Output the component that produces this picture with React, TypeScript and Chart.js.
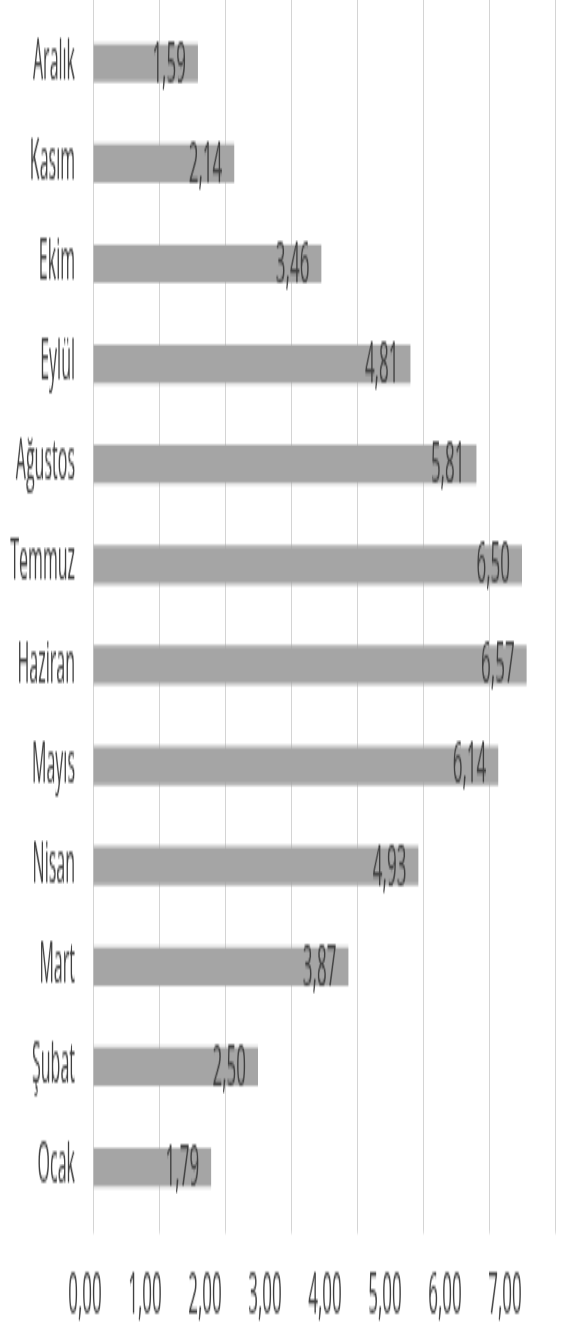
import React, { useEffect, useRef } from "react";
import { Chart, registerables } from "chart.js";

Chart.register(...registerables);

// ---- Data ----
const months: string[] = [
  "Ocak", "Şubat", "Mart", "Nisan", "Mayıs", "Haziran",
  "Temmuz", "Ağustos", "Eylül", "Ekim", "Kasım", "Aralık",
];
const values: number[] = [1.79, 2.5, 3.87, 4.93, 6.14, 6.57, 6.5, 5.81, 4.81, 3.46, 2.14, 1.59];
const tickValues: number[] = [0, 1, 2, 3, 4, 5, 6, 7];

const fmt = (v: number) => v.toFixed(2).replace(".", ",");

// internal canvas size; displayed stretched vertically like the reference
const W = 575;
const H = 387;
const DISPLAY_H = 1334;

const FONT = "'Open Sans', 'Noto Sans', sans-serif";
const TEXT = "#404040";
const GRID = "#d4d4d4";
const BAR = "#a5a5a5";

const valueLabels = {
  id: "valueLabels",
  afterDatasetsDraw(chart: any) {
    const ctx = chart.ctx;
    const meta = chart.getDatasetMeta(0);
    ctx.save();
    ctx.font = `17px ${FONT}`;
    ctx.fillStyle = TEXT;
    ctx.textAlign = "right";
    ctx.textBaseline = "middle";
    meta.data.forEach((bar: any, i: number) => {
      ctx.fillText(fmt(values[i]), bar.x - 12, bar.y + 0.5);
    });
    ctx.restore();
  },
};

export default function App() {
  const ref = useRef<HTMLCanvasElement | null>(null);

  useEffect(() => {
    document.body.style.margin = "0";
    const canvas = ref.current;
    if (!canvas) return;
    const chart = new Chart(canvas, {
      type: "bar",
      data: {
        labels: months,
        datasets: [
          {
            data: values,
            backgroundColor: BAR,
            borderWidth: 0,
            barPercentage: 0.385,
            categoryPercentage: 1,
            xAxisID: "x",
            yAxisID: "y",
          },
        ],
      },
      options: {
        indexAxis: "y",
        responsive: false,
        animation: false,
        devicePixelRatio: 1,
        layout: { padding: { left: 0, right: 20, top: 0, bottom: 0 } },
        plugins: {
          legend: { display: false },
          tooltip: { enabled: false },
          title: { display: false },
        },
        scales: {
          y: {
            type: "category",
            reverse: true,
            offset: true,
            grid: { display: false, drawTicks: false },
            border: { display: false },
            ticks: {
              padding: 18,
              color: TEXT,
              font: { family: FONT, size: 16 },
            },
            afterFit: (s: any) => {
              s.width = 93;
              s.paddingTop = 0;
              s.paddingBottom = 0;
            },
          },
          x: {
            type: "linear",
            position: "bottom",
            weight: 0,
            min: 0,
            max: 7,
            grid: {
              color: GRID,
              lineWidth: 1,
              drawTicks: true,
              tickLength: 4.6,
              tickColor: GRID,
            },
            border: { display: false },
            ticks: { display: false, stepSize: 1 },
            afterFit: (s: any) => {
              s.height = 4.6;
            },
          },
          xTop: {
            type: "linear",
            position: "top",
            min: 0,
            max: 7,
            grid: {
              color: GRID,
              drawOnChartArea: false,
              drawTicks: true,
              tickLength: 3.7,
              tickColor: GRID,
            },
            border: { display: false },
            ticks: { display: false, stepSize: 1 },
            afterFit: (s: any) => {
              s.height = 3.7;
            },
          },
          xLabels: {
            type: "linear",
            position: "bottom",
            weight: 1,
            min: 0.1333,
            max: 7.8333,
            grid: { display: false, drawTicks: false },
            border: { display: false },
            ticks: {
              padding: 8,
              color: TEXT,
              font: { family: FONT, size: 17 },
              maxRotation: 0,
              autoSkip: false,
              callback: (v: any) => fmt(Number(v)),
            },
            afterBuildTicks: (s: any) => {
              s.ticks = tickValues.map((v) => ({ value: v }));
            },
            afterFit: (s: any) => {
              s.height = 29.3;
            },
          },
        },
      },
      plugins: [valueLabels],
    });
    return () => chart.destroy();
  }, []);

  return (
    <canvas
      ref={ref}
      width={W}
      height={H}
      style={{ width: `${W}px`, height: `${DISPLAY_H}px`, display: "block" }}
    />
  );
}
